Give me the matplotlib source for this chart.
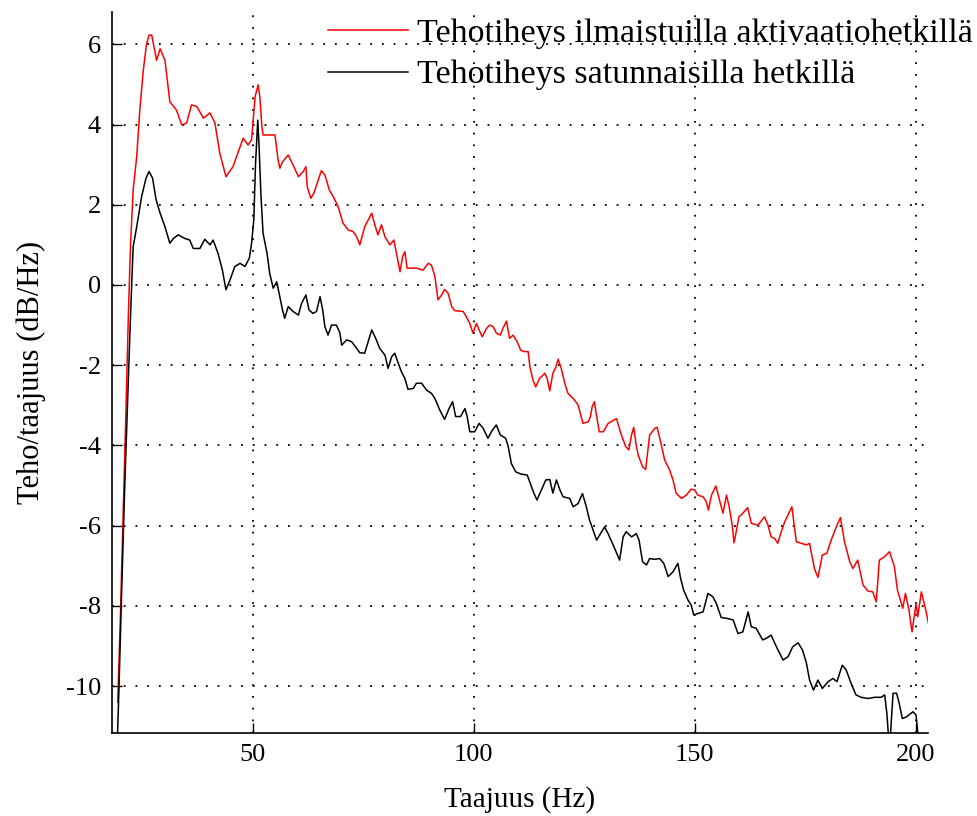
import matplotlib
matplotlib.use("Agg")
import matplotlib.pyplot as plt

# Frequencies (Hz) and power densities (dB/Hz)
red_f = [19.4, 20.0, 20.6, 21.2, 21.8, 22.3, 22.9, 23.7, 24.4, 25.2, 25.9, 26.5, 27.1, 28.2, 29.0,
         30.1, 30.8, 31.2, 32.7, 33.9, 35.0, 36.1, 37.3, 38.8, 40.3, 41.4, 42.5, 43.9, 45.5, 46.3,
         47.8, 48.9, 49.7, 50.5, 51.2, 51.6, 52.0, 52.3, 55.0, 55.7, 56.1, 56.7, 58.0, 59.1, 60.3,
         61.4, 62.0, 62.3, 63.1, 63.8, 64.8, 65.5, 66.3, 67.3, 68.2, 69.3, 70.4, 71.6, 72.7, 73.5,
         74.2, 75.3, 76.9, 77.6, 78.3, 79.1, 79.9, 81.0, 81.9, 82.5, 83.3, 83.9, 84.4, 84.9, 87.0,
         88.5, 89.7, 90.4, 91.2, 91.6, 91.9, 92.7, 93.4, 94.2, 95.0, 95.7, 97.6, 98.3, 99.1, 99.8,
         100.6, 101.2, 101.9, 102.9, 103.6, 104.4, 105.1, 106.0, 106.6, 107.4, 108.1, 108.9, 109.8,
         110.6, 111.3, 112.3, 112.7, 113.4, 114.0, 114.9, 116.1, 116.6, 117.2, 117.9, 118.6, 119.1,
         119.8, 120.6, 121.3, 122.5, 123.6, 124.7, 125.9, 126.4, 126.8, 127.3, 127.7, 128.4, 129.3,
         130.4, 132.3, 133.4, 134.4, 135.1, 135.7, 136.2, 136.7, 137.2, 138.2, 138.9, 139.8, 141.0,
         141.5, 142.2, 143.2, 144.3, 145.1, 145.8, 147.0, 148.1, 149.2, 150.0, 150.7, 151.9, 152.6,
         153.1, 153.8, 154.8, 155.7, 156.4, 157.2, 157.8, 158.5, 158.9, 159.4, 160.0, 160.9, 162.0,
         162.8, 164.3, 165.8, 166.6, 167.3, 168.1, 168.8, 169.6, 170.4, 171.1, 172.0, 173.0, 174.1,
         175.3, 176.0, 177.1, 177.9, 178.9, 179.9, 180.9, 182.2, 183.0, 183.9, 185.1, 185.8, 186.9,
         188.1, 189.2, 190.3, 191.1, 191.8, 192.9, 194.1, 195.2, 195.9, 197.1, 197.7, 198.5, 199.2,
         200.1, 200.5, 201.3, 202.3, 203.0]
red_db = [-10.4, -8.3, -5.9, -3.4, -0.8, 1.0, 2.37, 3.2, 4.36, 5.36, 5.99, 6.23, 6.23, 5.6, 5.89,
          5.6, 4.95, 4.57, 4.36, 3.99, 4.04, 4.49, 4.45, 4.16, 4.29, 4.04, 3.29, 2.70, 2.95, 3.2,
          3.66, 3.49, 3.62, 4.7, 4.99, 4.66, 3.99, 3.74, 3.74, 3.12, 2.91, 3.07, 3.24, 2.99, 2.70,
          2.83, 2.95, 2.45, 2.16, 2.29, 2.62, 2.85, 2.74, 2.37, 2.20, 1.95, 1.54, 1.37, 1.33, 1.2,
          1.0, 1.45, 1.79, 1.5, 1.25, 1.5, 1.2, 1.0, 1.12, 0.79, 0.33, 0.71, 0.83, 0.42, 0.42,
          0.37, 0.54, 0.5, 0.21, -0.12, -0.37, -0.25, -0.11, -0.21, -0.54, -0.64, -0.66, -0.79, -0.96, -1.2,
          -0.96, -1.12, -1.29, -1.08, -1.0, -1.04, -1.2, -1.25, -1.08, -0.9, -1.33, -1.25, -1.41,
          -1.62, -1.66, -1.66, -2.04, -2.37, -2.54, -2.33, -2.2, -2.33, -2.64, -2.2, -2.04, -1.85,
          -2.08, -2.45, -2.7, -2.83, -2.99, -3.45, -3.41, -3.28, -3.03, -2.91, -3.2, -3.66, -3.66,
          -3.45, -3.33, -3.74, -4.03, -4.11, -3.74, -3.55, -3.95, -4.24, -4.53, -4.6, -3.74, -3.57,
          -3.55, -3.87, -4.36, -4.61, -4.86, -5.19, -5.32, -5.24, -5.09, -5.11, -5.24, -5.28, -5.40,
          -5.61, -5.24, -5.01, -5.40, -5.69, -5.24, -5.53, -5.99, -6.43, -6.15, -5.78, -5.69, -5.55,
          -5.94, -5.99, -5.78, -5.99, -6.28, -6.32, -6.44, -6.15, -5.9, -5.74, -5.53, -6.40, -6.44,
          -6.48, -6.44, -7.07, -7.29, -6.73, -6.69, -6.36, -5.99, -5.80, -6.40, -6.9, -7.07, -6.86,
          -7.48, -7.63, -7.65, -7.90, -6.86, -6.78, -6.65, -7.02, -7.61, -8.06, -7.69, -8.10, -8.65,
          -7.94, -8.27, -7.65, -8.1, -8.48]

black_f = [19.0, 19.7, 20.3, 21.0, 21.6, 22.1, 22.6, 22.9, 23.7, 24.8, 25.8, 26.5, 27.3, 28.1, 29.0,
           30.1, 31.2, 32.0, 33.1, 34.6, 35.7, 36.5, 38.0, 39.1, 40.3, 41.0, 42.1, 43.1, 43.9, 44.8,
           45.9, 47.1, 48.2, 49.2, 49.7, 50.2, 50.6, 51.1, 51.4, 51.8, 52.3, 53.2, 53.8, 54.6, 55.4,
           56.1, 56.7, 57.2, 58.0, 59.1, 60.3, 61.0, 62.0, 62.7, 63.6, 64.4, 65.2, 65.8, 66.3, 67.0,
           67.8, 68.9, 69.7, 70.1, 71.2, 72.3, 73.5, 74.2, 75.3, 76.9, 77.8, 78.7, 79.9, 80.6, 81.4,
           82.1, 82.9, 83.6, 84.4, 85.1, 86.3, 87.0, 88.2, 89.3, 90.4, 91.2, 92.3, 93.4, 94.4, 95.2,
           95.9, 97.0, 98.0, 98.5, 99.1, 100.2, 101.2, 102.1, 103.2, 104.2, 105.1, 106.0, 107.2, 107.8,
           108.5, 109.5, 110.6, 112.1, 112.8, 113.6, 114.3, 115.3, 116.3, 117.2, 117.9, 118.7, 119.5,
           120.2, 121.7, 122.5, 123.6, 124.6, 125.4, 126.2, 127.8, 129.6, 130.4, 131.9, 133.0, 133.8,
           134.5, 135.7, 136.8, 137.4, 138.2, 139.1, 139.8, 141.0, 142.1, 143.0, 144.0, 145.1, 146.2,
           146.8, 147.5, 148.5, 149.2, 149.8, 150.7, 151.9, 153.0, 154.1, 154.9, 156.0, 157.2, 158.7,
           159.8, 160.9, 162.1, 162.8, 163.9, 165.4, 166.2, 167.3, 168.5, 170.0, 171.1, 172.2, 173.4,
           174.4, 175.3, 176.0, 176.9, 177.9, 178.9, 180.2, 181.3, 182.2, 183.4, 184.3, 185.4, 186.5,
           187.7, 189.2, 190.7, 192.2, 193.0, 193.5, 194.1, 194.9, 195.7, 196.3, 197.0, 197.9, 199.4,
           200.1, 200.8, 201.5, 203.0]
black_db = [-12.5, -10.0, -7.6, -5.0, -3.0, -1.4, 0.12, 0.95, 1.45, 2.2, 2.66, 2.83, 2.66, 2.12, 1.79,
            1.45, 1.04, 1.16, 1.25, 1.16, 1.12, 0.91, 0.91, 1.14, 1.0, 1.12, 0.79, 0.37, -0.12, 0.12,
            0.46, 0.54, 0.46, 0.67, 1.04, 1.62, 3.03, 4.11, 3.45, 2.29, 1.29, 0.79, 0.29, -0.08, 0.08,
            -0.29, -0.62, -0.83, -0.54, -0.66, -0.75, -0.46, -0.25, -0.62, -0.71, -0.66, -0.29, -0.62, -1.04, -1.25,
            -1.0, -1.0, -1.2, -1.5, -1.37, -1.41, -1.58, -1.69, -1.7, -1.12, -1.33, -1.58, -1.75, -2.08, -1.79,
            -1.70, -1.95, -2.16, -2.33, -2.6, -2.58, -2.45, -2.45, -2.62, -2.70, -2.83, -3.12, -3.35, -3.08, -2.91,
            -3.28, -3.28, -3.08, -3.28, -3.66, -3.66, -3.45, -3.57, -3.82, -3.62, -3.49, -3.74, -3.82, -4.03,
            -4.45, -4.66, -4.71, -4.74, -4.95, -5.19, -5.36, -5.11, -4.86, -4.85, -5.19, -4.86, -5.11,
            -5.28, -5.32, -5.53, -5.45, -5.2, -5.5, -5.86, -6.36, -6.03, -6.2, -6.57, -6.86, -6.28,
            -6.15, -6.28, -6.2, -6.36, -6.9, -6.98, -6.82, -6.84, -6.82, -6.94, -7.27, -7.15, -6.94,
            -7.31, -7.61, -7.86, -7.98, -8.23, -8.19, -8.15, -7.69, -7.77, -7.94, -8.29, -8.31, -8.35,
            -8.69, -8.65, -8.15, -8.52, -8.56, -8.85, -8.81, -8.73, -9.02, -9.35, -9.27, -9.02, -8.92,
            -9.1, -9.43, -9.85, -10.1, -9.85, -10.06, -9.89, -9.81, -9.89, -9.48, -9.6, -9.93, -10.22,
            -10.28, -10.31, -10.28, -10.28, -10.22, -10.68, -11.6, -10.18, -10.18, -10.43, -10.81, -10.77, -10.64,
            -10.72, -11.5, -11.9, -12.0]

xticks = [50, 100, 150, 200]
yticks = [-10, -8, -6, -4, -2, 0, 2, 4, 6]
label_red = "Tehotiheys ilmaistuilla aktivaatiohetkillä"
label_black = "Tehotiheys satunnaisilla hetkillä"
xlabel = "Taajuus (Hz)"
ylabel = "Teho/taajuus (dB/Hz)"

plt.rcParams['font.family'] = ['Liberation Serif', 'DejaVu Serif']
plt.rcParams['axes.unicode_minus'] = False

fig = plt.figure(figsize=(9.77, 8.16), dpi=100)
ax = fig.add_axes([0.1146, 0.1017, 0.9498 - 0.1146, 0.985 - 0.1017])

ax.plot(red_f, red_db, color='#ff0000', lw=1.1, label=label_red)
ax.plot(black_f, black_db, color='black', lw=1.1, label=label_black)

ax.set_xlim(18.1, 202.8)
ax.set_ylim(-11.17, 6.8)
ax.set_xticks(xticks)
ax.set_yticks(yticks)
ax.grid(True, color='black', linestyle=(0, (1, 5.5)), linewidth=1.3)
ax.tick_params(direction='in', length=7, width=1, labelsize=19, pad=8)
for s in ['top', 'right']:
    ax.spines[s].set_visible(False)
for s in ['left', 'bottom']:
    ax.spines[s].set_linewidth(1.2)

ax.set_xlabel(xlabel, fontsize=21, labelpad=14)
ax.set_ylabel(ylabel, fontsize=22, labelpad=14)

leg = ax.legend(loc='upper left', bbox_to_anchor=(328 / 977, 0.978), bbox_transform=fig.transFigure,
                frameon=False, fontsize=24.5, handlelength=2.35, handletextpad=0.26,
                labelspacing=0.32, borderaxespad=0.0, borderpad=0.0)

fig.savefig('out.png', dpi=100)
